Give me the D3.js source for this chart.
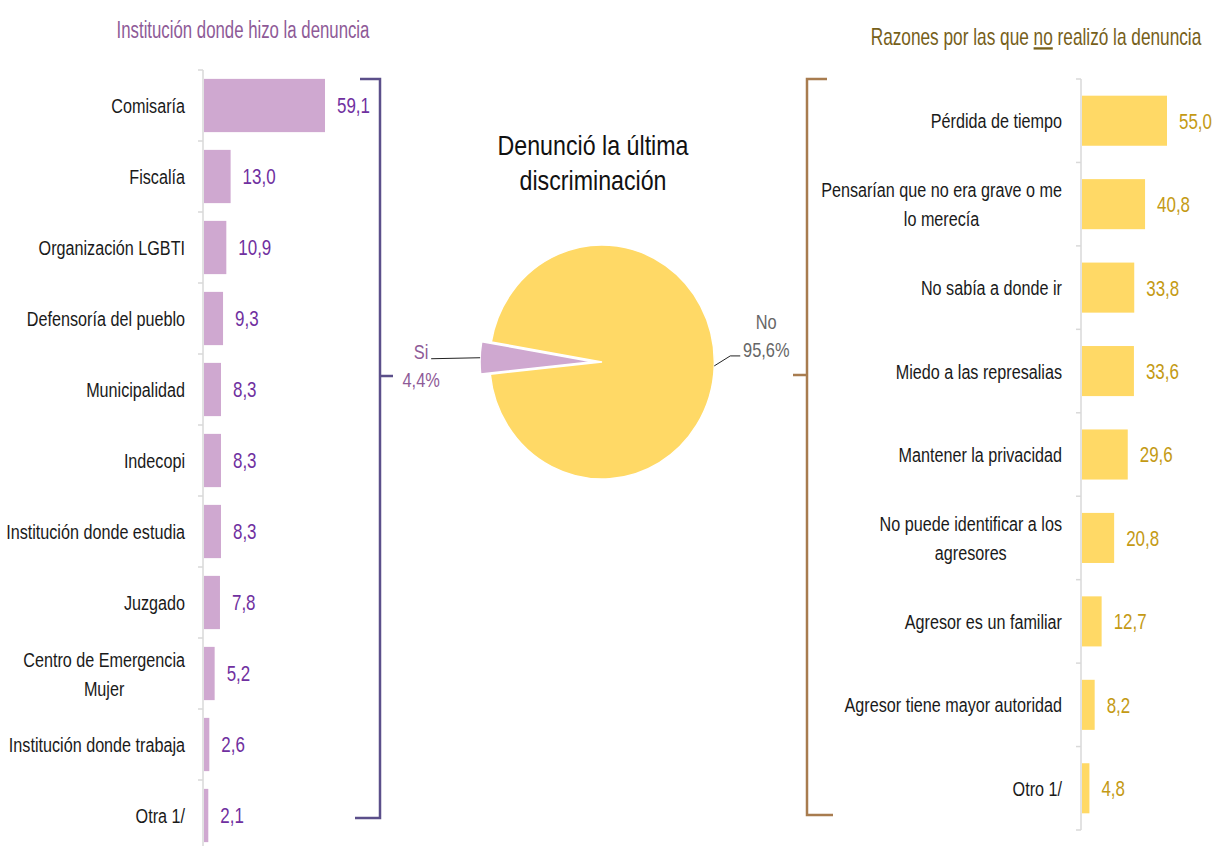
<!DOCTYPE html>
<html>
<head>
<meta charset="utf-8">
<script src="https://cdn.jsdelivr.net/npm/d3@7"></script>
<style>
  body { margin: 0; background: #fff; }
  svg { display: block; font-family: "Liberation Sans", Arial, sans-serif; }
</style>
</head>
<body>
<svg id="chart" width="1216" height="846"></svg>
<script>
// data
const leftCats = ["Comisaría", "Fiscalía", "Organización LGBTI", "Defensoría del pueblo", "Municipalidad",
  "Indecopi", "Institución donde estudia", "Juzgado", "Centro de Emergencia\nMujer",
  "Institución donde trabaja", "Otra 1/"];
const leftVals = [59.1, 13.0, 10.9, 9.3, 8.3, 8.3, 8.3, 7.8, 5.2, 2.6, 2.1];

const rightCats = ["Pérdida de tiempo", "Pensarían que no era grave o me\nlo merecía", "No sabía a donde ir",
  "Miedo a las represalias", "Mantener la privacidad", "No puede identificar a los\nagresores",
  "Agresor es un familiar", "Agresor tiene mayor autoridad", "Otro 1/"];
const rightVals = [55.0, 40.8, 33.8, 33.6, 29.6, 20.8, 12.7, 8.2, 4.8];

const pieCats = ["Si", "No"];
const pieVals = [4.4, 95.6];

const fmt = v => d3.format(".1f")(v).replace(".", ",");
const svg = d3.select("#chart");

// the source font is a narrow one, so squeeze Liberation Sans horizontally
const K = 0.77;
const sq = (x, y, k = K) => `translate(${x},${y}) scale(${k},1)`;

function barPanel(opts) {
  const g = svg.append("g");
  const y = d3.scaleBand()
    .domain(opts.cats)
    .range(opts.yRange)
    .paddingInner(opts.pad)
    .paddingOuter(opts.pad / 2);
  const x = d3.scaleLinear().domain([0, opts.xMax]).range([opts.x0, opts.x1]);

  // axis line + ticks at category boundaries
  g.append("line")
    .attr("x1", opts.x0).attr("x2", opts.x0)
    .attr("y1", opts.yRange[0]).attr("y2", opts.axisEnd)
    .attr("stroke", "#d9d9d9").attr("stroke-width", 1.5);
  g.selectAll(".tick")
    .data(d3.range(opts.cats.length + 1))
    .join("line")
    .attr("x1", opts.x0 - 5).attr("x2", opts.x0)
    .attr("y1", i => opts.yRange[0] + i * y.step())
    .attr("y2", i => opts.yRange[0] + i * y.step())
    .attr("stroke", "#d9d9d9").attr("stroke-width", 1.5);

  g.selectAll("rect")
    .data(opts.vals)
    .join("rect")
    .attr("x", x(0) + 1)
    .attr("y", (d, i) => y(opts.cats[i]))
    .attr("width", d => x(d) - x(0))
    .attr("height", y.bandwidth())
    .attr("fill", opts.color);

  g.selectAll(".val")
    .data(opts.vals)
    .join("text")
    .attr("class", "val")
    .attr("transform", (d, i) => sq(x(d) + 13, y(opts.cats[i]) + y.bandwidth() / 2))
    .attr("dy", "0.36em")
    .attr("font-size", 22)
    .attr("fill", opts.valColor)
    .text(fmt);

  // category labels, multi-line ones centred inside a right-aligned block
  opts.cats.forEach(c => {
    const lines = c.split("\n");
    const cy = y(c) + y.bandwidth() / 2;
    const t = g.append("text")
      .attr("font-size", 21)
      .attr("fill", "#1a1a1a");
    const lh = 29;
    lines.forEach((ln, j) => {
      t.append("tspan")
        .attr("x", 0)
        .attr("y", (j - (lines.length - 1) / 2) * lh)
        .attr("dy", "0.36em")
        .text(ln);
    });
    if (lines.length === 1) {
      t.attr("text-anchor", "end").attr("transform", sq(opts.labelRight, cy));
    } else {
      let w = 0;
      t.selectAll("tspan").each(function () { w = Math.max(w, this.getComputedTextLength()); });
      t.attr("text-anchor", "middle").attr("transform", sq(opts.labelRight - w * K / 2, cy));
    }
  });
  return g;
}

barPanel({
  cats: leftCats, vals: leftVals, xMax: 59.1, x0: 203, x1: 324,
  yRange: [70, 851], axisEnd: 851, pad: 0.25,
  color: "#cfa8d0", valColor: "#7030a0", labelRight: 185
});

barPanel({
  cats: rightCats, vals: rightVals, xMax: 55.0, x0: 1081, x1: 1166,
  yRange: [79, 830], axisEnd: 830, pad: 0.4,
  color: "#ffd966", valColor: "#c49a14", labelRight: 1062
});

// titles
svg.append("text")
  .attr("transform", sq(243, 38, 0.73))
  .attr("text-anchor", "middle")
  .attr("font-size", 23)
  .attr("fill", "#8e5a97")
  .text("Institución donde hizo la denuncia");

const rt = svg.append("text")
  .attr("transform", sq(1036, 45, 0.75))
  .attr("text-anchor", "middle")
  .attr("font-size", 23)
  .attr("fill", "#76601a");
rt.append("tspan").text("Razones por las que ");
rt.append("tspan").attr("text-decoration", "underline").text("no");
rt.append("tspan").text(" realizó la denuncia");

const pt = svg.append("text")
  .attr("transform", sq(593, 0, 0.86))
  .attr("text-anchor", "middle")
  .attr("font-size", 27)
  .attr("fill", "#111");
pt.append("tspan").attr("x", 0).attr("y", 155).text("Denunció la última");
pt.append("tspan").attr("x", 0).attr("y", 190).text("discriminación");

// brackets
svg.append("path")
  .attr("d", "M360,79H380V818H355M380,376H393")
  .attr("fill", "none").attr("stroke", "#5b4f8a").attr("stroke-width", 2.5);
svg.append("path")
  .attr("d", "M827,79H807V815H833M807,375H793")
  .attr("fill", "none").attr("stroke", "#a87c4f").attr("stroke-width", 2.5);

// pie
const cx = 602, cy = 362, r = 117, sx = 0.96;
const deg = Math.PI / 180;
const pie = d3.pie().sort(null).startAngle(264 * deg).endAngle(624 * deg);
const arcs = pie(pieVals);
const arc = d3.arc().innerRadius(0).outerRadius(r);
const pieColors = ["#cfa8d0", "#ffd966"];
const explode = [10, 0];
const pg = svg.append("g").attr("transform", `translate(${cx},${cy}) scale(${sx},1)`);
pg.selectAll("path")
  .data(arcs)
  .join("path")
  .attr("d", arc)
  .attr("transform", (d, i) => {
    const a = (d.startAngle + d.endAngle) / 2;
    return `translate(${Math.sin(a) * explode[i]},${-Math.cos(a) * explode[i]})`;
  })
  .attr("fill", (d, i) => pieColors[i])
  .attr("stroke", "#fff").attr("stroke-width", 1.5);

const pos = (a, rad) => [cx + Math.sin(a) * rad * sx, cy - Math.cos(a) * rad];

// Si label (left)
{
  const a = (arcs[0].startAngle + arcs[0].endAngle) / 2;
  const p0 = pos(a, r + explode[0]);
  const p1 = [p0[0] - 49, p0[1] + 1];
  svg.append("path").attr("d", `M${p0}L${p1}`).attr("stroke", "#222").attr("stroke-width", 1).attr("fill", "none");
  const t = svg.append("text").attr("text-anchor", "middle").attr("font-size", 20).attr("fill", "#8e5a97")
    .attr("transform", sq(p1[0] - 10, p1[1], 0.82));
  t.append("tspan").attr("x", 0).attr("y", 0).text(pieCats[0]);
  t.append("tspan").attr("x", 0).attr("y", 28).text(fmt(pieVals[0]) + "%");
}
// No label (right)
{
  const a = (arcs[1].startAngle + arcs[1].endAngle) / 2;
  const p0 = pos(a, r);
  const p1 = [p0[0] + 16, p0[1] - 10];
  const p2 = [p1[0] + 10, p1[1]];
  svg.append("path").attr("d", `M${p0}L${p1}L${p2}`).attr("stroke", "#222").attr("stroke-width", 1).attr("fill", "none");
  const t = svg.append("text").attr("text-anchor", "middle").attr("font-size", 20).attr("fill", "#666")
    .attr("transform", sq(p2[0] + 26, p2[1], 0.82));
  t.append("tspan").attr("x", 0).attr("y", -27).text(pieCats[1]);
  t.append("tspan").attr("x", 0).attr("y", 1).text(fmt(pieVals[1]) + "%");
}
</script>
</body>
</html>
